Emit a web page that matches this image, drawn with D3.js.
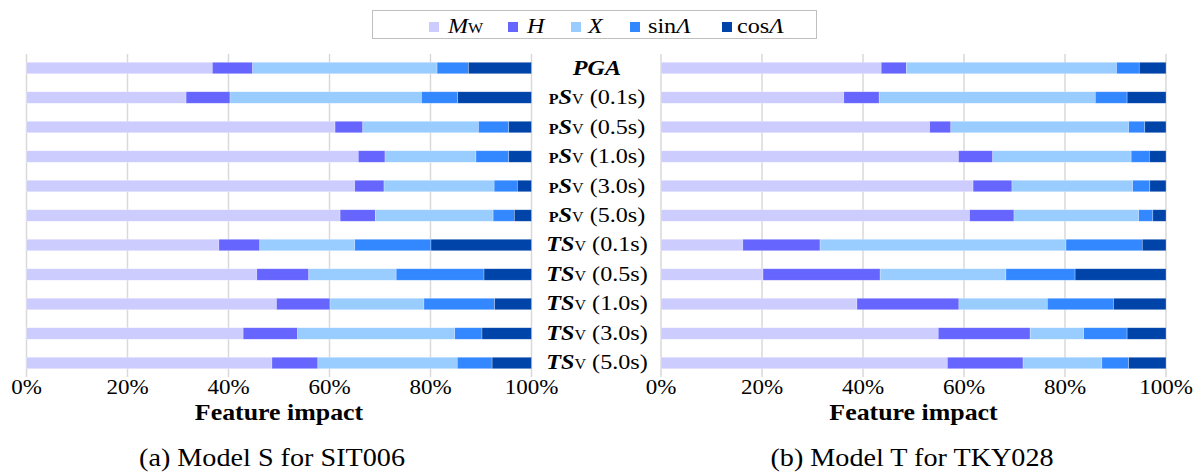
<!DOCTYPE html>
<html>
<head>
<meta charset="utf-8">
<script src="https://cdn.jsdelivr.net/npm/d3@7"></script>
<style>
  html, body { margin: 0; padding: 0; background: #fff; }
  svg { display: block; font-family: "Liberation Serif", "DejaVu Serif", serif; }
</style>
</head>
<body>
<svg id="chart" width="1200" height="472"></svg>
<script>
// Output categories (rows, top to bottom)
const categories = ["PGA", "PSv (0.1s)", "PSv (0.5s)", "PSv (1.0s)", "PSv (3.0s)", "PSv (5.0s)",
                    "TSv (0.1s)", "TSv (0.5s)", "TSv (1.0s)", "TSv (3.0s)", "TSv (5.0s)"];
// Input features (stack order, left to right)
const features = ["Mw", "H", "X", "sinΛ", "cosΛ"];
const featureColors = ["#CCCCFF", "#6666FF", "#99CCFF", "#3388FF", "#0044AA"];
const tickValues = [0, 0.2, 0.4, 0.6, 0.8, 1.0];

// Model S for SIT006 — feature impact (%)
const sMw  = [36.8, 31.6, 61.1, 65.7, 65.0, 62.1, 38.1, 45.6, 49.5, 42.9, 48.6];
const sH   = [ 8.0,  8.7,  5.5,  5.3,  5.8,  7.0,  8.1, 10.3, 10.6, 10.8,  9.1];
const sX   = [36.5, 37.9, 22.9, 18.0, 21.8, 23.3, 18.8, 17.3, 18.6, 31.1, 27.6];
const sSin = [ 6.2,  7.2,  6.0,  6.5,  4.6,  4.2, 15.1, 17.4, 14.0,  5.4,  6.9];
const sCos = [12.5, 14.6,  4.5,  4.5,  2.8,  3.4, 19.9,  9.4,  7.3,  9.8,  7.8];

// Model T for TKY028 — feature impact (%)
const tMw  = [43.6, 36.2, 53.2, 58.9, 61.8, 61.1, 16.2, 20.2, 38.8, 54.9, 56.7];
const tH   = [ 5.0,  7.0,  4.2,  6.8,  7.7,  8.8, 15.3, 23.2, 20.2, 18.2, 15.0];
const tX   = [41.6, 42.8, 35.2, 27.4, 23.9, 24.7, 48.7, 24.9, 17.5, 10.6, 15.6];
const tSin = [ 4.5,  6.3,  3.2,  3.6,  3.4,  2.8, 15.1, 13.7, 13.1,  8.6,  5.3];
const tCos = [ 5.3,  7.7,  4.2,  3.3,  3.2,  2.6,  4.7, 18.0, 10.4,  7.7,  7.4];

const SX = 1.15;           // horizontal stretch applied to all text
const svg = d3.select("#chart");

function rows(series) {
  return categories.map((c, i) => {
    const r = { category: c };
    features.forEach((f, k) => r[f] = series[k][i]);
    return r;
  });
}

const panels = [
  { data: rows([sMw, sH, sX, sSin, sCos]), x0: 26.5, x1: 531.5, axisCx: 279, caption: "(a) Model S for SIT006", capCx: 272 },
  { data: rows([tMw, tH, tX, tSin, tCos]), x0: 661, x1: 1166, axisCx: 913.5, caption: "(b) Model T for TKY028", capCx: 912 }
];

const gridTop = 54, gridBottom = 377;
const y = d3.scaleBand().domain(categories).range([gridTop, gridBottom])
  .paddingInner(0.61).paddingOuter(0.28);

const stack = d3.stack().keys(features).offset(d3.stackOffsetExpand);
const color = d3.scaleOrdinal().domain(features).range(featureColors);

// stretched text helper
function label(parent, x, yy, anchor) {
  return parent.append("g")
    .attr("transform", `translate(${x},${yy}) scale(${SX},1)`)
    .append("text").attr("text-anchor", anchor || "middle");
}

panels.forEach(p => {
  const x = d3.scaleLinear().domain([0, 1]).range([p.x0, p.x1]);
  const g = svg.append("g");

  // vertical gridlines
  g.append("g").selectAll("line").data(tickValues).join("line")
    .attr("x1", d => x(d)).attr("x2", d => x(d))
    .attr("y1", gridTop).attr("y2", gridBottom)
    .attr("stroke", "#D9D9D9").attr("stroke-width", 1.5);

  // stacked bars
  const layers = stack(p.data);
  g.append("g").selectAll("g").data(layers).join("g")
    .attr("fill", d => color(d.key))
    .selectAll("rect").data(d => d).join("rect")
    .attr("x", d => x(d[0]))
    .attr("width", d => x(d[1]) - x(d[0]))
    .attr("y", d => y(d.data.category))
    .attr("height", y.bandwidth())
    .attr("stroke", "#ffffff").attr("stroke-opacity", 0.45).attr("stroke-width", 0.6);

  // tick labels
  const fmt = d3.format(".0%");
  tickValues.forEach(v => {
    label(g, x(v), 394).attr("font-size", 20).attr("fill", "#000").text(fmt(v));
  });

  // axis title
  label(g, p.axisCx, 420).attr("font-size", 22.5).attr("font-weight", "bold").text("Feature impact");

  // caption
  label(g, p.capCx, 466).attr("font-size", 24.5).text(p.caption);
});

// category labels between the panels
const catG = svg.append("g");
categories.forEach(c => {
  const t = label(catG, 597, y(c) + y.bandwidth() / 2 + 6.5).attr("font-size", 21);
  if (c === "PGA") {
    t.append("tspan").attr("font-weight", "bold").attr("font-style", "italic").text("PGA");
    return;
  }
  const rest = c.slice(3);
  if (c.startsWith("PSv")) {
    t.append("tspan").attr("font-size", 14).attr("font-weight", "bold").text("P");
    t.append("tspan").attr("font-weight", "bold").attr("font-style", "italic").text("S");
  } else {
    t.append("tspan").attr("font-weight", "bold").attr("font-style", "italic").text("TS");
  }
  t.append("tspan").attr("font-size", 14).text("V");
  t.append("tspan").text(rest);
});

// legend
const leg = svg.append("g");
leg.append("rect").attr("x", 372.5).attr("y", 10.5).attr("width", 444).attr("height", 28)
  .attr("fill", "#fff").attr("stroke", "#BFBFBF").attr("stroke-width", 1);
const legendSquareX = [429, 508, 571, 630, 722];
const legendTextX = [448, 527, 588, 648, 737];
features.forEach((f, i) => {
  leg.append("rect").attr("x", legendSquareX[i]).attr("y", 22).attr("width", 10).attr("height", 10)
    .attr("fill", color(f));
  const t = label(leg, legendTextX[i], 33, "start").attr("font-size", 21);
  if (f === "Mw") {
    t.append("tspan").attr("font-style", "italic").text("M");
    t.append("tspan").attr("font-size", 14).text("W");
  } else if (f === "H" || f === "X") {
    t.append("tspan").attr("font-style", "italic").text(f);
  } else {
    t.append("tspan").text(f.slice(0, 3));
    t.append("tspan").attr("font-style", "italic").text("Λ");
  }
});
</script>
</body>
</html>
